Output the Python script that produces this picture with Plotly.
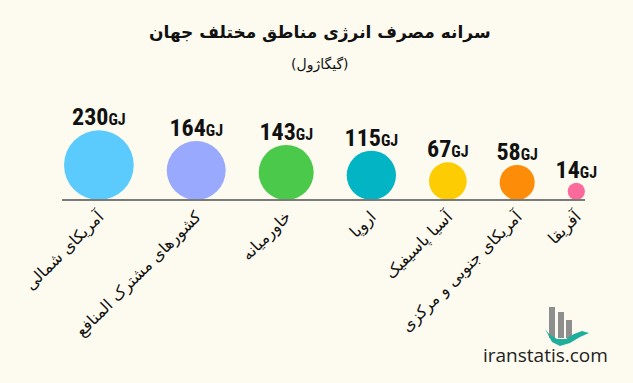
import plotly.graph_objects as go
import math

# ---- data ----
regions = ["آمریکای شمالی", "کشورهای مشترک المنافع", "خاورمیانه", "اروپا",
           "آسیا پاسیفیک", "آمریکای جنوبی و مرکزی", "آفریقا"]
values = [230, 164, 143, 115, 67, 58, 14]
colors = ["#5bcbfd", "#98a9fe", "#4bc94b", "#03b5c4", "#fecc03", "#fd8d08", "#fb6a9a"]
title_text = "سرانه مصرف انرژی مناطق مختلف جهان"
subtitle_text = "(گیگاژول)"
unit = "GJ"

W, H = 633, 383
BASE_Y = 200          # baseline screen y
X0, X1 = 62, 585      # baseline extent
K = 4.6               # diameter scale (px per sqrt(GJ))
GAP = 33
LEFT = 64

diam = [K * math.sqrt(v) for v in values]
centers = []
pos = LEFT
for d in diam:
    centers.append(pos + d / 2)
    pos += d + GAP
ys = [d / 2 for d in diam]
tops = [d - 1 for d in diam]

labels = [f"<b>{v}</b><span style='font-size:16px'><b>{unit}</b></span>" for v in values]

fig = go.Figure()
fig.add_trace(go.Scatter(
    x=centers, y=ys, mode="markers",
    marker=dict(size=diam, color=colors, line=dict(width=0), opacity=1),
    hoverinfo="skip", cliponaxis=False,
))
fig.add_trace(go.Scatter(
    x=centers, y=tops, mode="text",
    text=labels, textposition="top center",
    textfont=dict(family="Roboto Condensed, Roboto, sans-serif",
                  size=24, color="#111"),
    hoverinfo="skip", cliponaxis=False,
))

def px(x):
    return x / W

def py(y):
    return 1 - y / H

# logo
shapes = []
for (xa, xb, yt) in [(549, 555, 307), (558, 564, 312), (566, 572, 320)]:
    shapes.append(dict(type="rect", xref="paper", yref="paper",
                       x0=px(xa), x1=px(xb), y0=py(338), y1=py(yt),
                       fillcolor="#8e8e8e", line=dict(width=0)))
pts_out = [(545, 329), (552, 342), (560, 346), (570, 343), (580, 337), (589, 333)]
pts_in = [(582, 331), (574, 334), (566, 339), (557, 339), (549, 334)]
path = "M " + " L ".join(f"{px(a):.5f},{py(b):.5f}" for a, b in pts_out + pts_in) + " Z"
shapes.append(dict(type="path", xref="paper", yref="paper", path=path,
                   fillcolor="#1fae9b", line=dict(width=0), layer="above"))

fig.update_layout(
    width=W, height=H,
    margin=dict(l=0, r=0, t=0, b=0),
    paper_bgcolor="#fdfbf0", plot_bgcolor="#fdfbf0",
    showlegend=False,
    xaxis=dict(domain=[X0 / W, X1 / W], range=[X0, X1], anchor="free",
               position=(H - BASE_Y) / H, automargin=False,
               showline=True, linecolor="#7a7a78", linewidth=2,
               showgrid=False, zeroline=False, ticks="",
               tickmode="array", tickvals=centers, ticktext=regions,
               tickangle=-45,
               tickfont=dict(family="DejaVu Sans", size=16, color="#111")),
    yaxis=dict(domain=[0, 1], range=[BASE_Y - H, BASE_Y], visible=False,
               automargin=False),
    shapes=shapes,
    annotations=[
        dict(text=f"<b>{title_text}</b>", xref="paper", yref="paper",
             x=px(320), y=py(33), xanchor="center", yanchor="middle",
             showarrow=False, font=dict(family="DejaVu Sans", size=17, color="#111")),
        dict(text=subtitle_text, xref="paper", yref="paper",
             x=px(320), y=py(65), xanchor="center", yanchor="middle",
             showarrow=False, font=dict(family="DejaVu Sans", size=14, color="#111")),
        dict(text="iranstatis.com", xref="paper", yref="paper",
             x=px(545), y=py(355), xanchor="center", yanchor="middle",
             showarrow=False, font=dict(family="Open Sans", size=19, color="#222")),
    ],
)

fig.write_html("out.html", config={"displayModeBar": False},
               post_script="document.body.style.margin='0';document.body.style.background='#fdfbf0';")
